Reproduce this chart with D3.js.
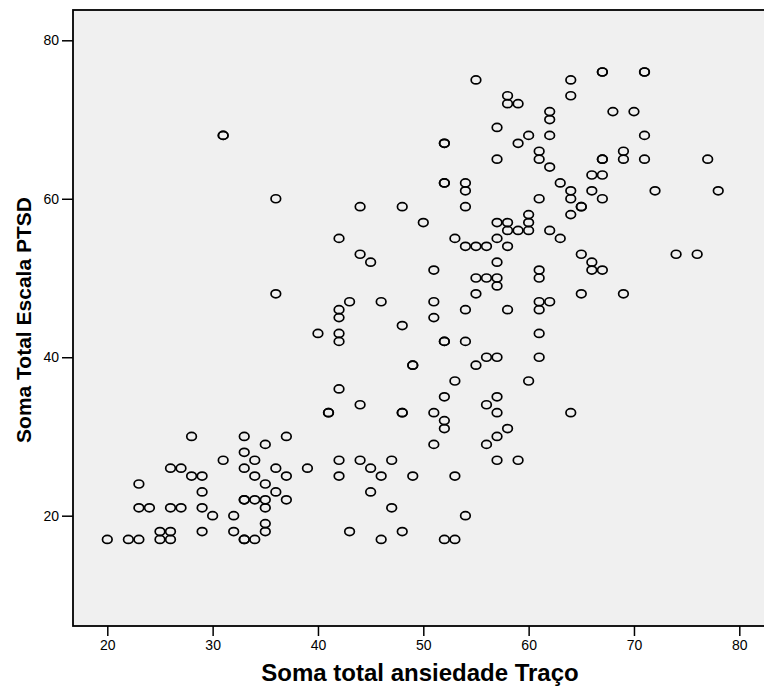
<!DOCTYPE html>
<html>
<head>
<meta charset="utf-8">
<script src="https://cdn.jsdelivr.net/npm/d3@7"></script>
<style>
  html, body { margin: 0; padding: 0; background: #fff; }
  svg { display: block; }
  text { font-family: Arial, "Liberation Sans", sans-serif; fill: #000; }
</style>
</head>
<body>
<svg id="chart"></svg>
<script>
// PTSD total per row, and the trait-anxiety totals observed at that PTSD value
var ptsdLevels = [17, 18, 19, 20, 21, 22, 23, 24, 25, 26, 27, 28, 29, 30, 31, 32, 33, 34, 35, 36, 37,
  39, 40, 42, 43, 44, 45, 46, 47, 48, 49, 50, 51, 52, 53, 54, 55, 56, 57, 58, 59, 60,
  61, 62, 63, 64, 65, 66, 67, 68, 69, 70, 71, 72, 73, 75, 76];
var anxietyAtLevel = [
  [20, 22, 23, 25, 26, 33, 33, 34, 46, 52, 53],
  [25, 26, 29, 32, 35, 43, 48],
  [35],
  [30, 32, 54],
  [23, 24, 26, 27, 29, 35, 47],
  [33, 33, 34, 35, 37],
  [29, 36, 45],
  [23, 35],
  [28, 29, 34, 37, 42, 46, 49, 53],
  [26, 27, 33, 36, 39, 45],
  [31, 34, 42, 44, 47, 57, 59],
  [33],
  [35, 51, 56],
  [28, 33, 37, 57],
  [52, 58],
  [52],
  [41, 41, 48, 48, 51, 57, 64],
  [44, 56],
  [52, 57],
  [42],
  [53, 60],
  [49, 49, 55],
  [56, 57, 61],
  [42, 52, 52, 54],
  [40, 42, 61],
  [48],
  [42, 51],
  [42, 54, 58, 61],
  [43, 46, 51, 61, 62],
  [36, 55, 65, 69],
  [57],
  [55, 56, 57, 61],
  [51, 61, 66, 67],
  [45, 57, 66],
  [44, 65, 74, 76],
  [54, 55, 56, 58],
  [42, 53, 57, 63],
  [58, 59, 60, 62],
  [50, 57, 58, 60],
  [60, 64],
  [44, 48, 54, 65, 65],
  [36, 61, 64, 67],
  [54, 64, 66, 72, 78],
  [52, 52, 54, 63],
  [66, 67],
  [62],
  [57, 61, 67, 67, 69, 71, 77],
  [61, 69],
  [52, 52, 59],
  [31, 31, 60, 62, 71],
  [57],
  [62],
  [62, 68, 70],
  [58, 59],
  [58, 64],
  [55, 64],
  [67, 67, 71, 71]
];
var xTicks = [20, 30, 40, 50, 60, 70, 80];
var yTicks = [20, 40, 60, 80];
var xTitle = "Soma total ansiedade Traço";
var yTitle = "Soma Total Escala PTSD";

var W = 764, H = 687;
var frame = { left: 73, top: 10, right: 768, bottom: 626 };

var points = [];
ptsdLevels.forEach(function (p, i) {
  anxietyAtLevel[i].forEach(function (a) {
    points.push({ x: a, y: p });
  });
});

var x = d3.scaleLinear().domain([20, 80]).range([107.3, 739.3]);
var y = d3.scaleLinear().domain([20, 80]).range([515.7, 40.3]);

var svg = d3.select("#chart").attr("width", W).attr("height", H);

svg.append("rect")
  .attr("x", frame.left)
  .attr("y", frame.top)
  .attr("width", frame.right - frame.left)
  .attr("height", frame.bottom - frame.top)
  .attr("fill", "#f0f0f0")
  .attr("stroke", "#000")
  .attr("stroke-width", 1.8);

// bottom axis
var xAxis = d3.axisBottom(x).tickValues(xTicks).tickSize(10).tickPadding(4);
var gx = svg.append("g")
  .attr("transform", "translate(0," + frame.bottom + ")")
  .call(xAxis);
gx.select(".domain").remove();
gx.selectAll(".tick line").attr("stroke", "#000").attr("stroke-width", 1.5);
gx.selectAll(".tick text")
  .style("font-family", "Arial, 'Liberation Sans', sans-serif")
  .style("font-size", "14px")
  .attr("fill", "#000");

// left axis
var yAxis = d3.axisLeft(y).tickValues(yTicks).tickSize(11).tickPadding(3);
var gy = svg.append("g")
  .attr("transform", "translate(" + frame.left + ",0)")
  .call(yAxis);
gy.select(".domain").remove();
gy.selectAll(".tick line").attr("stroke", "#000").attr("stroke-width", 1.5);
gy.selectAll(".tick text")
  .style("font-family", "Arial, 'Liberation Sans', sans-serif")
  .style("font-size", "14px")
  .attr("fill", "#000");

// markers
svg.append("g")
  .selectAll("ellipse")
  .data(points)
  .join("ellipse")
  .attr("cx", function (d) { return x(d.x); })
  .attr("cy", function (d) { return y(d.y); })
  .attr("rx", 4.8)
  .attr("ry", 4.0)
  .attr("fill", "none")
  .attr("stroke", "#000")
  .attr("stroke-width", 1.7);

svg.append("text")
  .attr("x", 420)
  .attr("y", 681)
  .attr("text-anchor", "middle")
  .style("font-weight", "bold")
  .style("font-size", "24px")
  .text(xTitle);

svg.append("text")
  .attr("transform", "translate(31,320) rotate(-90)")
  .attr("text-anchor", "middle")
  .style("font-weight", "bold")
  .style("font-size", "21px")
  .text(yTitle);
</script>
</body>
</html>
